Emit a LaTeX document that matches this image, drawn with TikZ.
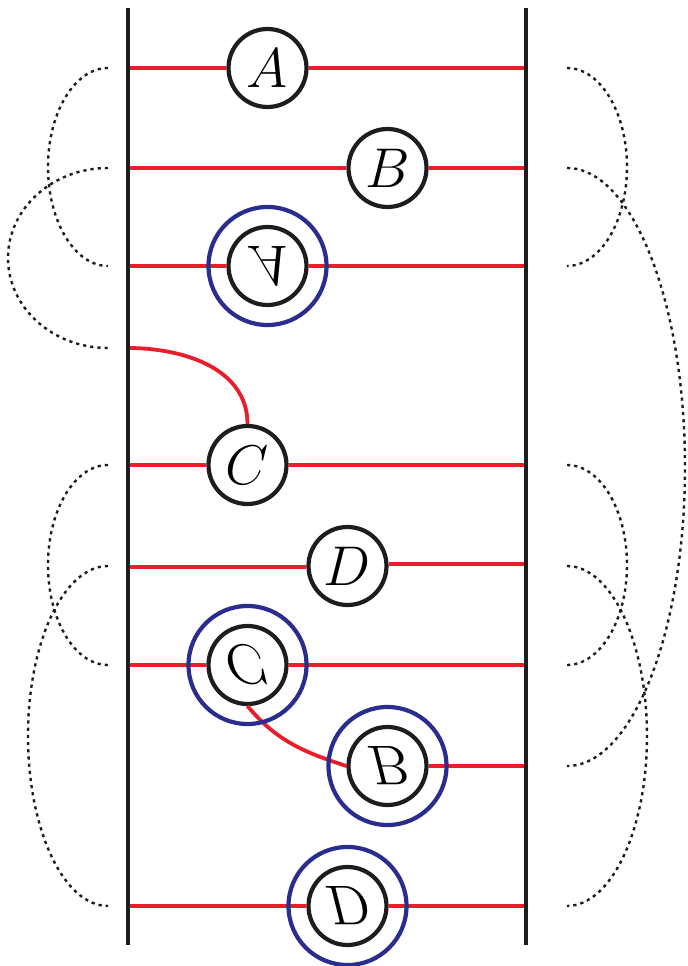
\RequirePackage{fix-cm}
\documentclass[tikz,border=0pt]{standalone}
\usepackage{graphicx}

\definecolor{wirered}{RGB}{234,30,42}
\definecolor{ringblue}{RGB}{42,44,142}
\definecolor{railblack}{RGB}{30,28,30}

% letter turned upside down
\newcommand{\flip}[1]{\scalebox{1}[-1]{$#1$}}

\tikzset{
	rail/.style={railblack, line width=2pt},
	wire/.style={wirered, line width=1.9pt},
	gate/.style={circle, draw=railblack, line width=2.1pt, fill=white,
		minimum size=39pt, inner sep=0pt, font=\fontsize{28}{30}\selectfont},
	ring/.style={ringblue, line width=2.1pt},
	loopline/.style={railblack, line width=1.2pt, dash pattern=on 1.6pt off 2pt},
}

\begin{document}
\begin{tikzpicture}[x=0.5pt, y=0.5pt]
	\useasboundingbox (0,0) rectangle (687,966);

	% gates
	\node[gate] (A) at (267.5,898) {$A$};
	\node[gate] (B) at (387.5,798) {$B$};
	\node[gate] (Ar) at (267.5,700) {\flip{A}};
	\node[gate] (C) at (247.5,501) {$C$};
	\node[gate] (D) at (347.5,400) {$D$};
	\node[gate] (Cr) at (247.5,301) {\flip{C}};
	\node[gate] (Br) at (387.5,200) {\flip{B}};
	\node[gate] (Dr) at (347.5,60) {\flip{D}};

	% ends of the wires on the rails
	\coordinate (l1) at (128,898); \coordinate (r1) at (526,898);
	\coordinate (l2) at (128,798); \coordinate (r2) at (526,798);
	\coordinate (l3) at (128,700); \coordinate (r3) at (526,700);
	\coordinate (l4) at (128,618);
	\coordinate (l5) at (128,501); \coordinate (r5) at (526,501);
	\coordinate (l6) at (128,399); \coordinate (r6) at (526,402);
	\coordinate (l7) at (128,301); \coordinate (r7) at (526,301);
	\coordinate (r8) at (526,200);
	\coordinate (l9) at (128,60); \coordinate (r9) at (526,60);

	% wires
	\draw[wire] (l1) -- (A) -- (r1);
	\draw[wire] (l2) -- (B) -- (r2);
	\draw[wire] (l3) -- (Ar) -- (r3);
	\draw[wire] (l4) to[out=0, in=90] (C.north);
	\draw[wire] (l5) -- (C) -- (r5);
	\draw[wire] (l6) -- (l6 -| D.west);
	\draw[wire] (r6 -| D.east) -- (r6);
	\draw[wire] (l7) -- (Cr) -- (r7);
	\draw[wire] (Cr.south) to[out=-50, in=162] (Br.west);
	\draw[wire] (Br) -- (r8);
	\draw[wire] (l9) -- (Dr) -- (r9);

	% rings round the turned gates
	\draw[ring] (Ar) circle[radius=29.5pt];
	\draw[ring] (Cr) circle[radius=29.5pt];
	\draw[ring] (Br) circle[radius=29.5pt];
	\draw[ring] (Dr) circle[radius=29.5pt];

	% rails
	\draw[rail] (128,958) -- (128,21);
	\draw[rail] (526,958) -- (526,21);

	% loops on the left
	\coordinate (la1) at (108,898);
	\coordinate (la2) at (108,798);
	\coordinate (la3) at (108,501);
	\coordinate (la4) at (108,400);
	\draw[loopline] (la1) arc[start angle=90, end angle=270, x radius=30pt, y radius=49.5pt];
	\draw[loopline] (la2) arc[start angle=90, end angle=270, x radius=50pt, y radius=45pt];
	\draw[loopline] (la3) arc[start angle=90, end angle=270, x radius=30pt, y radius=50pt];
	\draw[loopline] (la4) arc[start angle=90, end angle=270, x radius=40pt, y radius=85pt];

	% loops on the right
	\coordinate (ra1) at (567,898);
	\coordinate (ra2) at (567,798);
	\coordinate (ra3) at (567,501);
	\coordinate (ra4) at (567,400);
	\draw[loopline] (ra1) arc[start angle=90, end angle=-90, x radius=30pt, y radius=49.5pt];
	\draw[loopline] (ra2) arc[start angle=90, end angle=-90, x radius=59pt, y radius=149.5pt];
	\draw[loopline] (ra3) arc[start angle=90, end angle=-90, x radius=30pt, y radius=50pt];
	\draw[loopline] (ra4) arc[start angle=90, end angle=-90, x radius=40pt, y radius=85pt];
\end{tikzpicture}
\end{document}
